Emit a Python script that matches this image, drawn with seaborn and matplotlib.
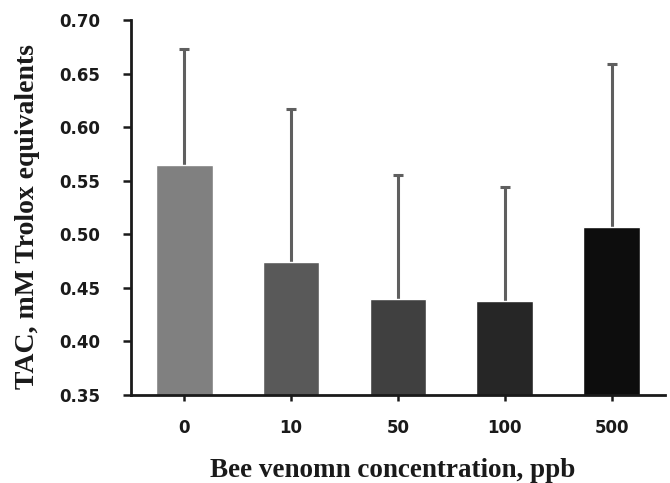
import pandas as pd
import matplotlib
matplotlib.use('Agg')
import matplotlib.pyplot as plt
import seaborn as sns

# Data
concentrations = ['0', '10', '50', '100', '500']
tac_mean = [0.565, 0.474, 0.440, 0.438, 0.507]
tac_err = [0.108, 0.143, 0.115, 0.106, 0.152]
bar_colors = ['#808080', '#595959', '#404040', '#262626', '#0d0d0d']

df = pd.DataFrame({'conc': concentrations, 'tac': tac_mean})

sns.set_style('ticks')
plt.rcParams['font.family'] = ['DejaVu Sans']

fig = plt.figure(figsize=(6.7, 4.83), dpi=100)
ax = fig.add_axes([0.1955, 0.1822, 0.797, 0.7764])

sns.barplot(data=df, x='conc', y='tac', hue='conc', palette=bar_colors,
            order=concentrations, hue_order=concentrations, width=0.53,
            saturation=1, legend=False, ax=ax, zorder=2)

# upper error bars only; lower half hidden behind the bars
centers = [p.get_x() + p.get_width() / 2 for p in ax.patches]
ax.errorbar(centers, tac_mean, yerr=tac_err, fmt='none', ecolor='#5f5f5f',
            elinewidth=2.2, capsize=3.5, capthick=2.2, zorder=1)

ax.set_xlim(-0.5, 4.5)
ax.set_ylim(0.35, 0.70)
ax.set_yticks([0.35, 0.40, 0.45, 0.50, 0.55, 0.60, 0.65, 0.70])
ax.set_yticklabels([f'{v:.2f}' for v in ax.get_yticks()])

sns.despine(ax=ax)
for s in ['left', 'bottom']:
    ax.spines[s].set_linewidth(2)
    ax.spines[s].set_color('#1a1a1a')

ax.tick_params(axis='y', length=6, width=1.8, color='#1a1a1a', pad=16)
ax.tick_params(axis='x', length=4, width=1.8, color='#1a1a1a', pad=13)
for lbl in ax.get_xticklabels() + ax.get_yticklabels():
    lbl.set_fontsize(12)
    lbl.set_fontweight('bold')
    lbl.set_color('#1a1a1a')

ax.set_xlabel('Bee venomn concentration, ppb', fontsize=19.5, fontweight='bold',
              family='Liberation Serif', labelpad=15.5, color='#1a1a1a')
ax.set_ylabel('TAC, mM Trolox equivalents', fontsize=20, fontweight='bold',
              family='Liberation Serif', labelpad=14, color='#1a1a1a')
ax.xaxis.label.set_x(0.49)
ax.yaxis.label.set_y(0.477)

fig.savefig('out.png', dpi=100)
